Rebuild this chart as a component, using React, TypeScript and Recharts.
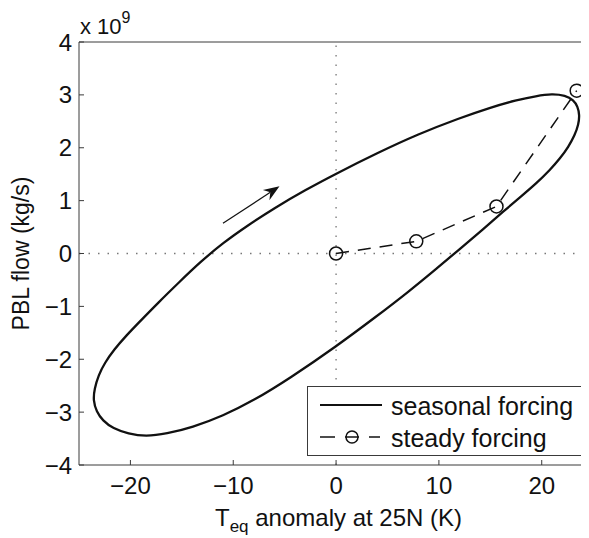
import { ComposedChart, Line, XAxis, YAxis, ReferenceLine, Legend, Label } from 'recharts';

// seasonal forcing loop (closed curve, drawn in this order)
const seasonalX = [
  -23.62, -23.5, -23.1, -22.5, -21.6, -20.4, -19.0, -17.3, -15.3, -13.2, -11.0, -8.6, -6.0, -3.0, 0,
  4.0, 8.0, 12.0, 15.0, 17.5, 19.5, 21.0, 22.3, 23.1, 23.5, 23.68, 23.58, 23.2, 22.6, 21.8, 20.8,
  19.5, 18.0, 16.3, 14.3, 12.0, 9.5, 7.0, 4.0, 0, -4.5, -8.0, -11.0, -14.0, -16.5, -18.5, -20.2,
  -21.7, -22.7, -23.3,
];
const seasonalY = [
  -2.78, -2.56, -2.3, -2.07, -1.82, -1.55, -1.27, -0.93, -0.55, -0.16, 0.2, 0.53, 0.86, 1.2, 1.51,
  1.9, 2.26, 2.56, 2.76, 2.9, 2.98, 3.02, 2.99, 2.9, 2.78, 2.62, 2.44, 2.23, 2.02, 1.8, 1.58,
  1.33, 1.08, 0.8, 0.46, 0.08, -0.33, -0.73, -1.18, -1.76, -2.36, -2.78, -3.07, -3.29, -3.41, -3.46, -3.41,
  -3.31, -3.16, -2.99,
];

// steady forcing runs
const steadyX = [0, 7.8, 15.6, 23.4];
const steadyY = [0, 0.23, 0.89, 3.08];

// direction arrow (data coords)
const arrowX = [-11.0, -5.5];
const arrowY = [0.57, 1.27];

const xTicks = [-20, -10, 0, 10, 20];
const yTicks = [-4, -3, -2, -1, 0, 1, 2, 3, 4];

const seasonal = seasonalX.map((x, i) => ({ x, y: seasonalY[i] }));
const steady = steadyX.map((x, i) => ({ x, y: steadyY[i] }));

const FONT = '"Liberation Sans", Arial, Helvetica, sans-serif';
const INK = '#111';
const AXIS = '#3a3a3a';

const fmt = (v: number) => (v < 0 ? `\u2212${Math.abs(v)}` : `${v}`);

const ArrowShape = (props: any) => {
  const { x1, y1, x2, y2 } = props;
  const ang = Math.atan2(y2 - y1, x2 - x1);
  const ux = Math.cos(ang);
  const uy = Math.sin(ang);
  const px = -uy;
  const py = ux;
  const len = 16;
  const half = 6;
  const notch = 11;
  const bx = x2 - ux * len;
  const by = y2 - uy * len;
  const nx = x2 - ux * notch;
  const ny = y2 - uy * notch;
  const pts = `${x2},${y2} ${bx + px * half},${by + py * half} ${nx},${ny} ${bx - px * half},${by - py * half}`;
  return (
    <g>
      <line x1={x1} y1={y1} x2={nx} y2={ny} stroke={INK} strokeWidth={1.2} />
      <polygon points={pts} fill={INK} />
    </g>
  );
};

const YLabel = (props: any) => {
  const { x, y, width, height } = props.viewBox;
  const cy = y + height / 2;
  const lx = x + 21;
  return (
    <g fontFamily={FONT} fill={INK}>
      <text x={lx} y={cy} fontSize={23} textAnchor="middle" transform={`rotate(-90, ${lx}, ${cy})`}>
        PBL flow (kg/s)
      </text>
      <text x={x + width + 1} y={y - 8} fontSize={22}>
        x 10
        <tspan dy={-11} fontSize={16}>9</tspan>
      </text>
    </g>
  );
};

const XLabel = (props: any) => {
  const { x, y, width } = props.viewBox;
  return (
    <text x={x + width / 2 + 5} y={y + 61} fontSize={24} fontFamily={FONT} fill={INK} textAnchor="middle">
      <tspan>T</tspan>
      <tspan dy={6} fontSize={17}>eq</tspan>
      <tspan dy={-6}> anomaly at 25N (K)</tspan>
    </text>
  );
};

const LegendBox = () => (
  <div
    style={{
      width: 276,
      height: 70,
      boxSizing: 'border-box',
      border: `1px solid ${AXIS}`,
      background: '#fff',
    }}
  >
    <svg width={274} height={68} style={{ display: 'block' }}>
      <line x1={12} y1={18} x2={74} y2={18} stroke={INK} strokeWidth={2} />
      <text x={83} y={28} fontSize={25} fontFamily={FONT} fill={INK}>seasonal forcing</text>
      <line x1={12} y1={50} x2={27} y2={50} stroke={INK} strokeWidth={1.5} />
      <line x1={37} y1={50} x2={51} y2={50} stroke={INK} strokeWidth={1.5} />
      <circle cx={44} cy={50} r={6} fill="none" stroke={INK} strokeWidth={1.5} />
      <line x1={61} y1={50} x2={72} y2={50} stroke={INK} strokeWidth={1.5} />
      <text x={83} y={60} fontSize={25} fontFamily={FONT} fill={INK}>steady forcing</text>
    </svg>
  </div>
);

export default function App() {
  const tickStyle = { fontSize: 24, fontFamily: FONT, fill: INK };
  return (
    <ComposedChart width={581} height={530} margin={{ top: 33, right: 0, bottom: 0, left: 0 }}>
      <XAxis
        dataKey="x"
        type="number"
        domain={[-25, 24.5]}
        ticks={xTicks}
        tickFormatter={fmt}
        height={73}
        tickSize={-5}
        tickMargin={17}
        tick={tickStyle}
        stroke={AXIS}
        allowDataOverflow
      >
        <Label content={XLabel} />
      </XAxis>
      <XAxis
        xAxisId="top"
        orientation="top"
        type="number"
        domain={[-25, 24.5]}
        ticks={xTicks}
        height={1}
        tickSize={-5}
        tick={false}
        stroke={AXIS}
        allowDataOverflow
      />
      <YAxis
        type="number"
        domain={[-4, 4]}
        ticks={yTicks}
        tickFormatter={fmt}
        width={71}
        tickSize={-5}
        tickMargin={12}
        tick={tickStyle}
        stroke={AXIS}
        allowDataOverflow
      >
        <Label content={YLabel} />
      </YAxis>
      <YAxis
        yAxisId="right"
        orientation="right"
        type="number"
        domain={[-4, 4]}
        ticks={yTicks}
        width={1}
        tickSize={-5}
        tick={false}
        stroke={AXIS}
        allowDataOverflow
      />
      <ReferenceLine x={0} stroke="#777" strokeDasharray="1.5 8" strokeWidth={1.3} />
      <ReferenceLine y={0} stroke="#777" strokeDasharray="1.5 8" strokeWidth={1.3} />
      <ReferenceLine
        segment={[
          { x: arrowX[0], y: arrowY[0] },
          { x: arrowX[1], y: arrowY[1] },
        ]}
        shape={ArrowShape}
      />
      <Line
        data={seasonal}
        dataKey="y"
        type="basisClosed"
        stroke={INK}
        strokeWidth={2.3}
        dot={false}
        activeDot={false}
        isAnimationActive={false}
        name="seasonal forcing"
      />
      <Line
        data={steady}
        dataKey="y"
        type="linear"
        stroke={INK}
        strokeWidth={1.5}
        strokeDasharray="13 9"
        dot={{ r: 6.5, fill: 'none', stroke: INK, strokeWidth: 1.5, strokeDasharray: 'none' }}
        activeDot={false}
        isAnimationActive={false}
        name="steady forcing"
      />
      <Legend
        layout="vertical"
        align="center"
        verticalAlign="middle"
        wrapperStyle={{ left: 299, top: 378, width: 276, height: 70 }}
        content={() => <LegendBox />}
      />
    </ComposedChart>
  );
}
